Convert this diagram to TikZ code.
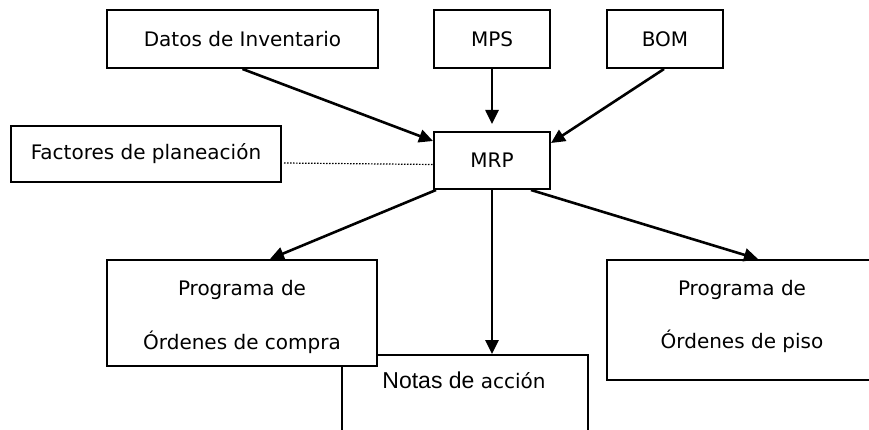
\documentclass[tikz,border=0pt]{standalone}
\usepackage{fontspec}
\setmainfont{DejaVu Sans}
\newfontfamily\arialf{Liberation Sans}
\usetikzlibrary{arrows.meta}
\begin{document}
\begin{tikzpicture}[x=1pt,y=1pt,
  box/.style={draw=black,line width=2pt,fill=white,inner sep=0pt,font=\fontsize{20}{20}\selectfont},
  arr/.style={line width=2.6pt,-{Triangle[length=14pt,width=13pt]}}]
\useasboundingbox (0,0) rectangle (869,-430);
\clip (0,0) rectangle (869,-430);
% Notas (behind)
\node[box,minimum width=246pt,minimum height=110pt] (notas) at (465,-410) {};
\node[font=\fontsize{20}{20}\selectfont,anchor=base] (notastxt) at (464,-388) {{\arialf\fontsize{23}{23}\selectfont Notas de} acción};
\node[box,minimum width=271pt,minimum height=58pt] (datos) at (242.5,-39) {Datos de Inventario};
\node[box,minimum width=116pt,minimum height=58pt] (mps) at (492,-39) {MPS};
\node[box,minimum width=116pt,minimum height=58pt] (bom) at (665,-39) {BOM};
\node[box,minimum width=116pt,minimum height=57pt] (mrp) at (492,-160.5) {MRP};
\node[box,minimum width=270pt,minimum height=56pt] (fact) at (146,-154) {Factores de planeación};
\node[box,minimum width=270pt,minimum height=106pt,align=center] (compra) at (242,-313) {\rule{0pt}{23pt}Programa de\\[30pt]Órdenes de compra};
\node[box,minimum width=270pt,minimum height=120pt,align=center,text depth=11pt] (piso) at (742,-320) {Programa de\\[30pt]Órdenes de piso};
% connectors
\draw[arr] (datos.south) -- ([yshift=-10pt]mrp.north west);
\draw[arr] (mps.south) -- ([yshift=7pt]mrp.north);
\draw[arr] ([xshift=-1pt]bom.south) -- ([yshift=-12pt]mrp.north east);
\draw[line width=1.2pt,dash pattern=on 1.5pt off 1.5pt] ([xshift=2pt,yshift=-9pt]fact.east) -- ([yshift=-4pt]mrp.west);
\draw[arr] ([xshift=3pt]mrp.south west) -- ([xshift=28pt]compra.north);
\draw[arr] (mrp.south) -- (mrp.south |- notas.north);
\draw[arr] ([xshift=-20pt]mrp.south east) -- ([xshift=16pt]piso.north);
\end{tikzpicture}
\end{document}
